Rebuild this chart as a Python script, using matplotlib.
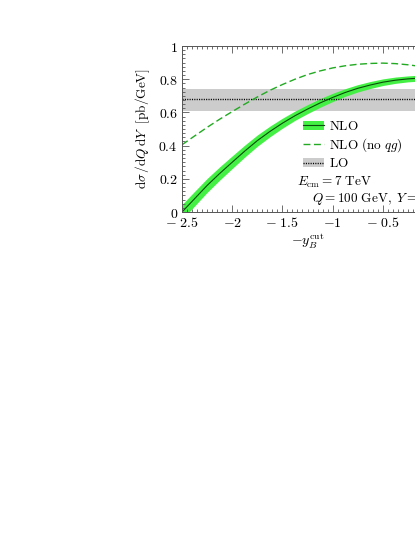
import numpy as np
import matplotlib
matplotlib.use("Agg")
import matplotlib.pyplot as plt
from matplotlib.patches import Patch
from matplotlib.lines import Line2D
from matplotlib.ticker import MultipleLocator, FuncFormatter

plt.rcParams["mathtext.fontset"] = "cm"
plt.rcParams["font.family"] = "serif"
plt.rcParams["font.serif"] = ["DejaVu Serif"]

# valores
y_cut = [-2.5, -2.375, -2.25, -2.125, -2.0, -1.875, -1.75, -1.625, -1.5, -1.375, -1.25,
         -1.125, -1.0, -0.875, -0.75, -0.625, -0.5, -0.375, -0.25, -0.125, 0.0]
nlo = [0.0, 0.08, 0.16, 0.232, 0.30, 0.367, 0.43, 0.485, 0.535, 0.58, 0.62,
       0.657, 0.69, 0.72, 0.745, 0.765, 0.782, 0.794, 0.802, 0.807, 0.81]
nlo_err = [0.045, 0.044, 0.042, 0.040, 0.038, 0.036, 0.034, 0.032, 0.030, 0.028, 0.027,
           0.026, 0.025, 0.023, 0.022, 0.021, 0.020, 0.019, 0.018, 0.018, 0.018]
nlo_no_g = [0.405, 0.458, 0.51, 0.559, 0.605, 0.65, 0.693, 0.733, 0.768, 0.80, 0.828,
            0.85, 0.868, 0.881, 0.89, 0.895, 0.897, 0.894, 0.887, 0.877, 0.865]
lo = 0.68
lo_lo, lo_hi = 0.61, 0.74

x = np.array(y_cut)
nlo = np.array(nlo)
err = np.array(nlo_err)

fig = plt.figure(figsize=(4.15, 5.37), dpi=100)
ax = fig.add_axes([0.4386, 0.6052, 0.6048, 0.3091])

ax.axhspan(lo_lo, lo_hi, color="#cccccc", lw=0)
ax.axhline(lo, color="black", ls=(0, (0.8, 0.9)), lw=1.0)
ax.fill_between(x, nlo - err, nlo + err, color="#44f044", lw=0)
ax.plot(x, nlo, color="#0a4a0a", lw=0.8)
ax.plot(x, nlo_no_g, color="#22aa22", ls=(0, (5, 2.5)), lw=1.0)

ax.set_xlim(-2.5, 0)
ax.set_ylim(0, 1)

ax.xaxis.set_major_locator(MultipleLocator(0.5))
ax.xaxis.set_minor_locator(MultipleLocator(0.05))
ax.yaxis.set_major_locator(MultipleLocator(0.2))
ax.yaxis.set_minor_locator(MultipleLocator(0.025))


def fmt_x(v, pos):
    if abs(v) < 1e-9:
        return r"$0$"
    if abs(v - round(v)) < 1e-9:
        return r"$-%d$" % abs(round(v))
    return r"$-\ %g$" % abs(v)


def fmt_y(v, pos):
    if abs(v) < 1e-9:
        return r"$0$"
    if abs(v - 1) < 1e-9:
        return r"$1$"
    return r"$%.1f$" % v


ax.xaxis.set_major_formatter(FuncFormatter(fmt_x))
ax.yaxis.set_major_formatter(FuncFormatter(fmt_y))
ax.tick_params(which="both", direction="in", top=True, right=True,
               color="#555555", labelsize=10, width=0.6)
ax.tick_params(which="major", length=5, pad=3)
ax.tick_params(which="minor", length=2.5)
for s in ax.spines.values():
    s.set_color("#555555")
    s.set_linewidth(0.7)

ax.set_xlabel(r"$-y_B^{\rm cut}$", fontsize=10, labelpad=1)
ax.set_ylabel(r"$\mathrm{d}\sigma\,/\mathrm{d}Q\,\mathrm{d}Y\ \ [\mathrm{pb/GeV}]$",
              fontsize=9.5, labelpad=5)

h_nlo = (Patch(color="#44f044", lw=0), Line2D([], [], color="#0a4a0a", lw=0.8))
h_nog = Line2D([], [], color="#22aa22", ls=(0, (5, 2.5)), lw=1.0)
h_lo = (Patch(color="#cccccc", lw=0), Line2D([], [], color="black", ls=(0, (0.8, 0.9)), lw=1.0))
ax.legend([h_nlo, h_nog, h_lo],
          [r"$\mathrm{NLO}$", r"$\mathrm{NLO\ (no\ }qg\mathrm{)}$", r"$\mathrm{LO}$"],
          loc="center left", bbox_to_anchor=(0.482, 0.404), frameon=False,
          fontsize=9.5, handlelength=1.6, handletextpad=0.4, labelspacing=0.25,
          borderpad=0, borderaxespad=0)

ax.text(0.46, 0.176, r"$E_{\rm cm}=7\ \mathrm{TeV}$", transform=ax.transAxes,
        fontsize=9.5, va="center", ha="left")
ax.text(0.518, 0.078, r"$Q=100\ \mathrm{GeV},\ Y=0$", transform=ax.transAxes,
        fontsize=9.5, va="center", ha="left")

fig.savefig("out.png", dpi=100)
